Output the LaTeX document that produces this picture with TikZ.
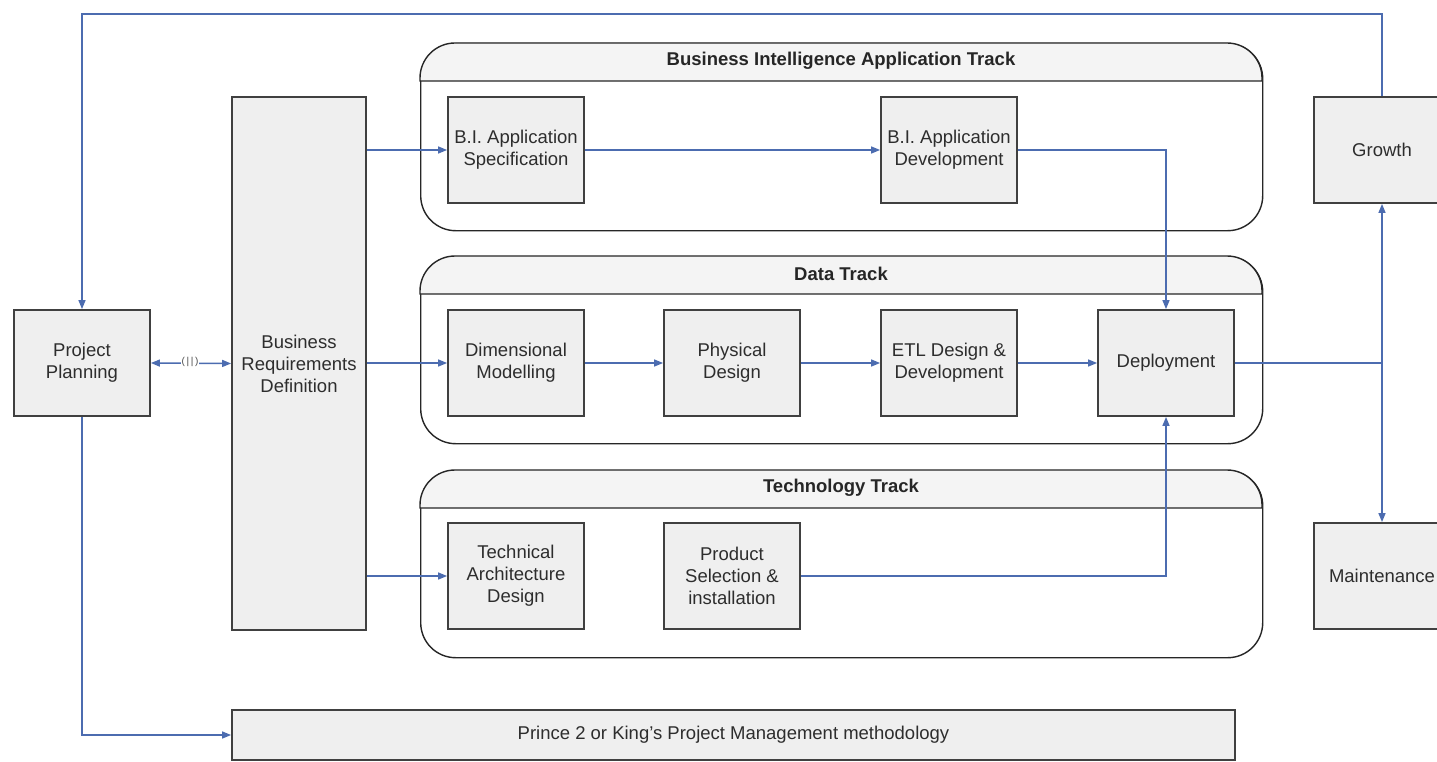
\documentclass[tikz,border=0pt]{standalone}
\usepackage{fontspec}
\setmainfont{Liberation Sans}
\usetikzlibrary{arrows.meta}
\definecolor{boxfill}{RGB}{239,239,239}
\definecolor{boxdraw}{RGB}{64,64,64}
\definecolor{hdrfill}{RGB}{244,244,244}
\definecolor{arrowc}{RGB}{76,108,176}
\definecolor{txt}{RGB}{45,45,45}
\tikzset{
  stepbox/.style={draw=boxdraw, fill=boxfill, line width=1.8pt, minimum width=136pt, minimum height=106pt, inner sep=1pt, align=center, text=txt, font=\fontsize{18.5}{22}\selectfont},
  trackbox/.style={draw=black!85, fill=white, line width=1.4pt, minimum width=842pt, minimum height=187pt, rounded corners=35pt},
  tracktitle/.style={font=\bfseries\fontsize{18.5}{22}\selectfont, text=black!85},
  conn/.style={draw=arrowc, line width=1.4pt},
  arr/.style={conn, -{Triangle[length=9pt,width=7pt]}},
  arrb/.style={conn, {Triangle[length=9pt,width=7pt]}-{Triangle[length=9pt,width=7pt]}},
}
\begin{document}
\begin{tikzpicture}[x=1pt,y=-1pt]
\useasboundingbox (0,0) rectangle (1437,762);
\clip (0,0) rectangle (1437,762);
\fill[white] (0,0) rectangle (1437,762);

% tracks
\foreach \nm/\yt/\title in {bit/43/Business Intelligence Application Track, dat/256/Data Track, tec/470/Technology Track}{
  \node[trackbox, anchor=north west] (\nm) at (420,\yt) {};
  \draw[fill=hdrfill, line width=1.4pt, draw=black!85] (420,\yt+38) [rounded corners=35pt] -- (420,\yt) -- (1262,\yt) [sharp corners] -- (1262,\yt+38) -- cycle;
  \node[tracktitle] (\nm-t) at (841,\yt+18) {\title};
}

% steps
\node[stepbox] (PP) at (82,363) {Project\\Planning};
\node[stepbox, minimum width=134pt, minimum height=533pt] (BRD) at (299,363.5) {Business\\Requirements\\Definition};
\node[stepbox] (BIspec) at (516,150) {B.I. Application\\Specification};
\node[stepbox] (BIdev) at (949,150) {B.I. Application\\Development};
\node[stepbox] (DM) at (516,363) {Dimensional\\Modelling};
\node[stepbox] (PD) at (732,363) {Physical\\Design};
\node[stepbox] (ETL) at (949,363) {ETL Design \&\\Development};
\node[stepbox] (Dep) at (1166,363) {Deployment};
\node[stepbox] (TAD) at (516,576) {Technical\\Architecture\\Design};
\node[stepbox] (PS) at (732,576) {Product\\Selection \&\\installation};
\node[stepbox] (Gro) at (1382,150) {Growth};
\node[stepbox] (Mai) at (1382,576) {Maintenance};
\node[stepbox, minimum width=1003pt, minimum height=50pt] (PR) at (733.5,735) {Prince 2 or King's Project Management methodology};

% connectors
\draw[arrb] (PP.east) -- (BRD.west);
\node[fill=white, inner sep=1pt, text=black!70, font=\fontsize{10}{10}\selectfont] (mk) at (190,362) {(\,|\,|\,)};
\draw[arr] (BRD.east |- BIspec) -- (BIspec.west);
\draw[arr] (BRD.east |- DM) -- (DM.west);
\draw[arr] (BRD.east |- TAD) -- (TAD.west);
\draw[arr] (BIspec.east) -- (BIdev.west);
\draw[arr] (BIdev.east) -| (Dep.north);
\draw[arr] (DM.east) -- (PD.west);
\draw[arr] (PD.east) -- (ETL.west);
\draw[arr] (ETL.east) -- (Dep.west);
\draw[arr] (PS.east) -| (Dep.south);
\coordinate (j) at (Gro.south |- Dep.east);
\draw[conn] (Dep.east) -- (j);
\draw[arr] (j) -- (Gro.south);
\draw[arr] (j) -- (Mai.north);
\coordinate (topy) at (0,14);
\draw[arr] (Gro.north) -- (Gro.north |- topy) -| (PP.north);
\draw[arr] (PP.south) |- (PR.west);
\end{tikzpicture}
\end{document}
